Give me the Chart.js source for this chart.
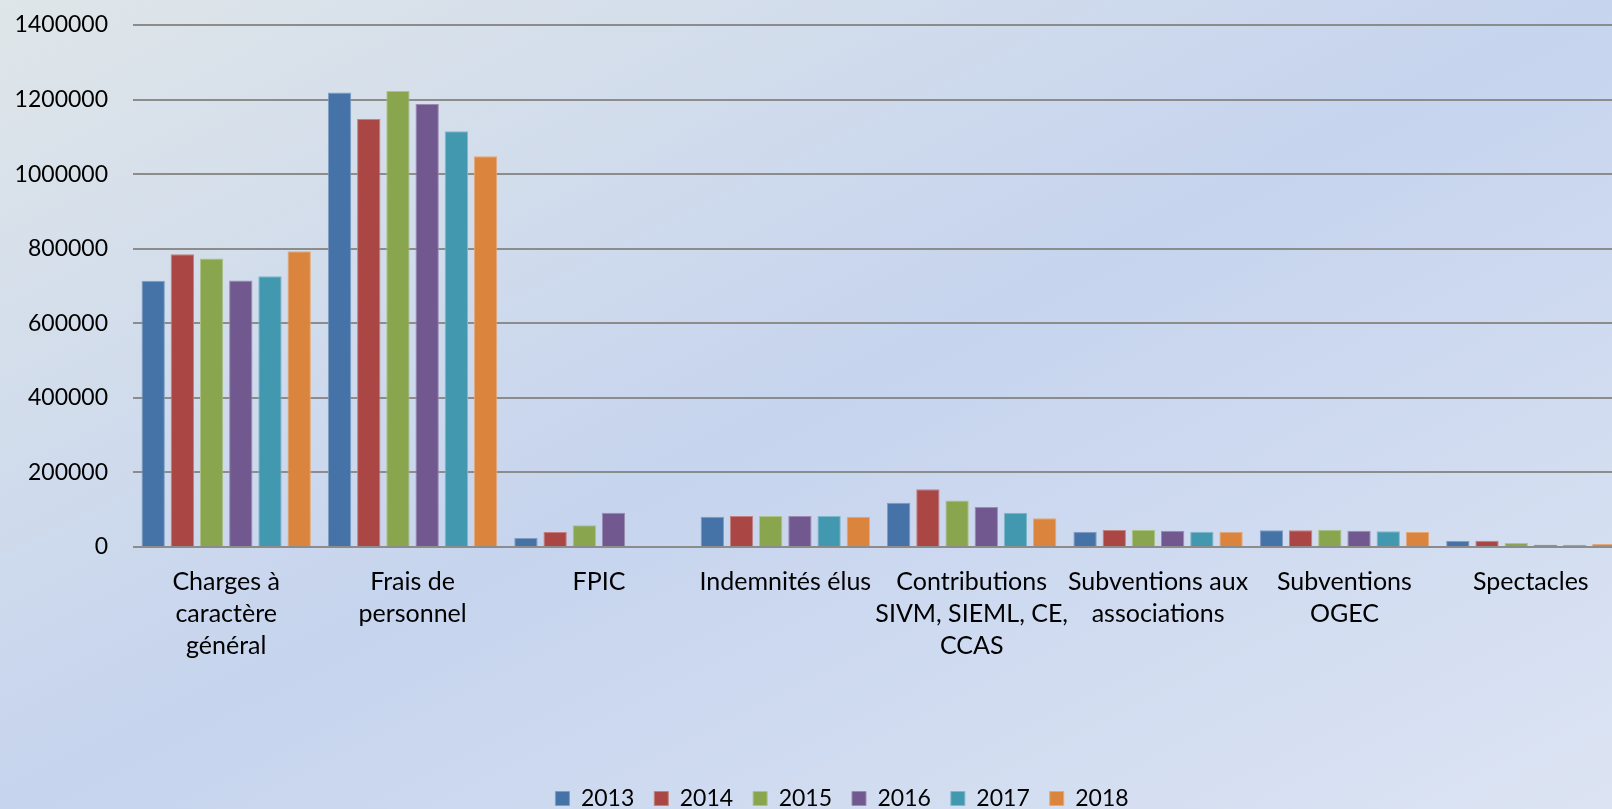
<!DOCTYPE html>
<html>
<head>
<meta charset="utf-8">
<script src="https://cdn.jsdelivr.net/npm/chart.js@4"></script>
<style>
    html, body {
        margin: 0;
        padding: 0;
        width: 1612px;
        height: 809px;
        overflow: hidden;
        background: linear-gradient(to bottom right, #dfe6e9 0%, #c6d4ee 50%, #dce4f3 100%);
    }
    #wrap {
        position: absolute;
        left: 0;
        top: 0;
    }
</style>
</head>
<body>
<div id="wrap"><canvas id="chart" width="1684" height="820"></canvas></div>
<script>
const categories = [
    ['Charges à', 'caractère', 'général'],
    ['Frais de', 'personnel'],
    'FPIC',
    'Indemnités élus',
    ['Contributions', 'SIVM, SIEML, CE,', 'CCAS'],
    ['Subventions aux', 'associations'],
    ['Subventions', 'OGEC'],
    'Spectacles'
];
const years = ['2013', '2014', '2015', '2016', '2017', '2018'];
const v2013 = [714000, 1219000, 24000, 81000, 119000, 41000, 44700, 16000];
const v2014 = [785000, 1148000, 40000, 83000, 155000, 45600, 44700, 17000];
const v2015 = [774000, 1223000, 58000, 83000, 125000, 45600, 46500, 11000];
const v2016 = [715000, 1188000, 92000, 83000, 107000, 43800, 43800, 6000];
const v2017 = [726000, 1115000, 0, 83000, 92000, 41000, 42000, 6000];
const v2018 = [793000, 1048000, 3000, 81000, 77000, 41000, 40000, 8000];
const yTicks = [0, 200000, 400000, 600000, 800000, 1000000, 1200000, 1400000];

const fills = ['#4572A7', '#AA4643', '#89A54E', '#71588F', '#4198AF', '#DB843D'];
const edges = ['#7f9dc2', '#c3807e', '#adc285', '#9c8bb1', '#7fb8c8', '#e6a877'];
const values = [v2013, v2014, v2015, v2016, v2017, v2018];

const font = 'Lato, "Open Sans", sans-serif';

const ctx = document.getElementById('chart').getContext('2d');
new Chart(ctx, {
    type: 'bar',
    data: {
        labels: categories,
        datasets: years.map((y, i) => ({
            label: y,
            data: values[i],
            backgroundColor: fills[i],
            borderColor: edges[i],
            borderWidth: 1,
            categoryPercentage: 0.94,
            barPercentage: 0.8
        }))
    },
    options: {
        responsive: false,
        animation: false,
        layout: {
            padding: { top: 25, left: 0, right: 0, bottom: 0 }
        },
        plugins: {
            legend: {
                position: 'bottom',
                labels: {
                    color: '#000',
                    boxWidth: 14,
                    boxHeight: 14,
                    padding: 20,
                    font: { family: font, size: 23, lineHeight: 1 }
                }
            },
            tooltip: { enabled: false }
        },
        scales: {
            x: {
                grid: { display: false, drawTicks: false },
                border: { display: false },
                ticks: {
                    color: '#000',
                    autoSkip: false,
                    maxRotation: 0,
                    padding: 19,
                    font: { family: font, size: 25, lineHeight: 1.28 }
                },
                afterFit: function(scale) {
                    scale.height = 220;
                }
            },
            y: {
                min: 0,
                max: 1400000,
                afterBuildTicks: function(scale) {
                    scale.ticks = yTicks.map(v => ({ value: v }));
                },
                grid: { color: '#8c8c8c', lineWidth: 2, drawTicks: false },
                border: { display: false },
                ticks: {
                    color: '#000',
                    padding: 25,
                    font: { family: font, size: 23 },
                    callback: function(value) { return String(value); }
                },
                afterFit: function(scale) {
                    scale.width = 133;
                    scale.paddingTop = 0;
                    scale.paddingBottom = 0;
                }
            },
            y2: {
                position: 'right',
                grid: { display: false },
                border: { display: false },
                ticks: { display: false },
                afterFit: function(scale) {
                    scale.width = 60;
                }
            }
        }
    }
});
</script>
</body>
</html>
